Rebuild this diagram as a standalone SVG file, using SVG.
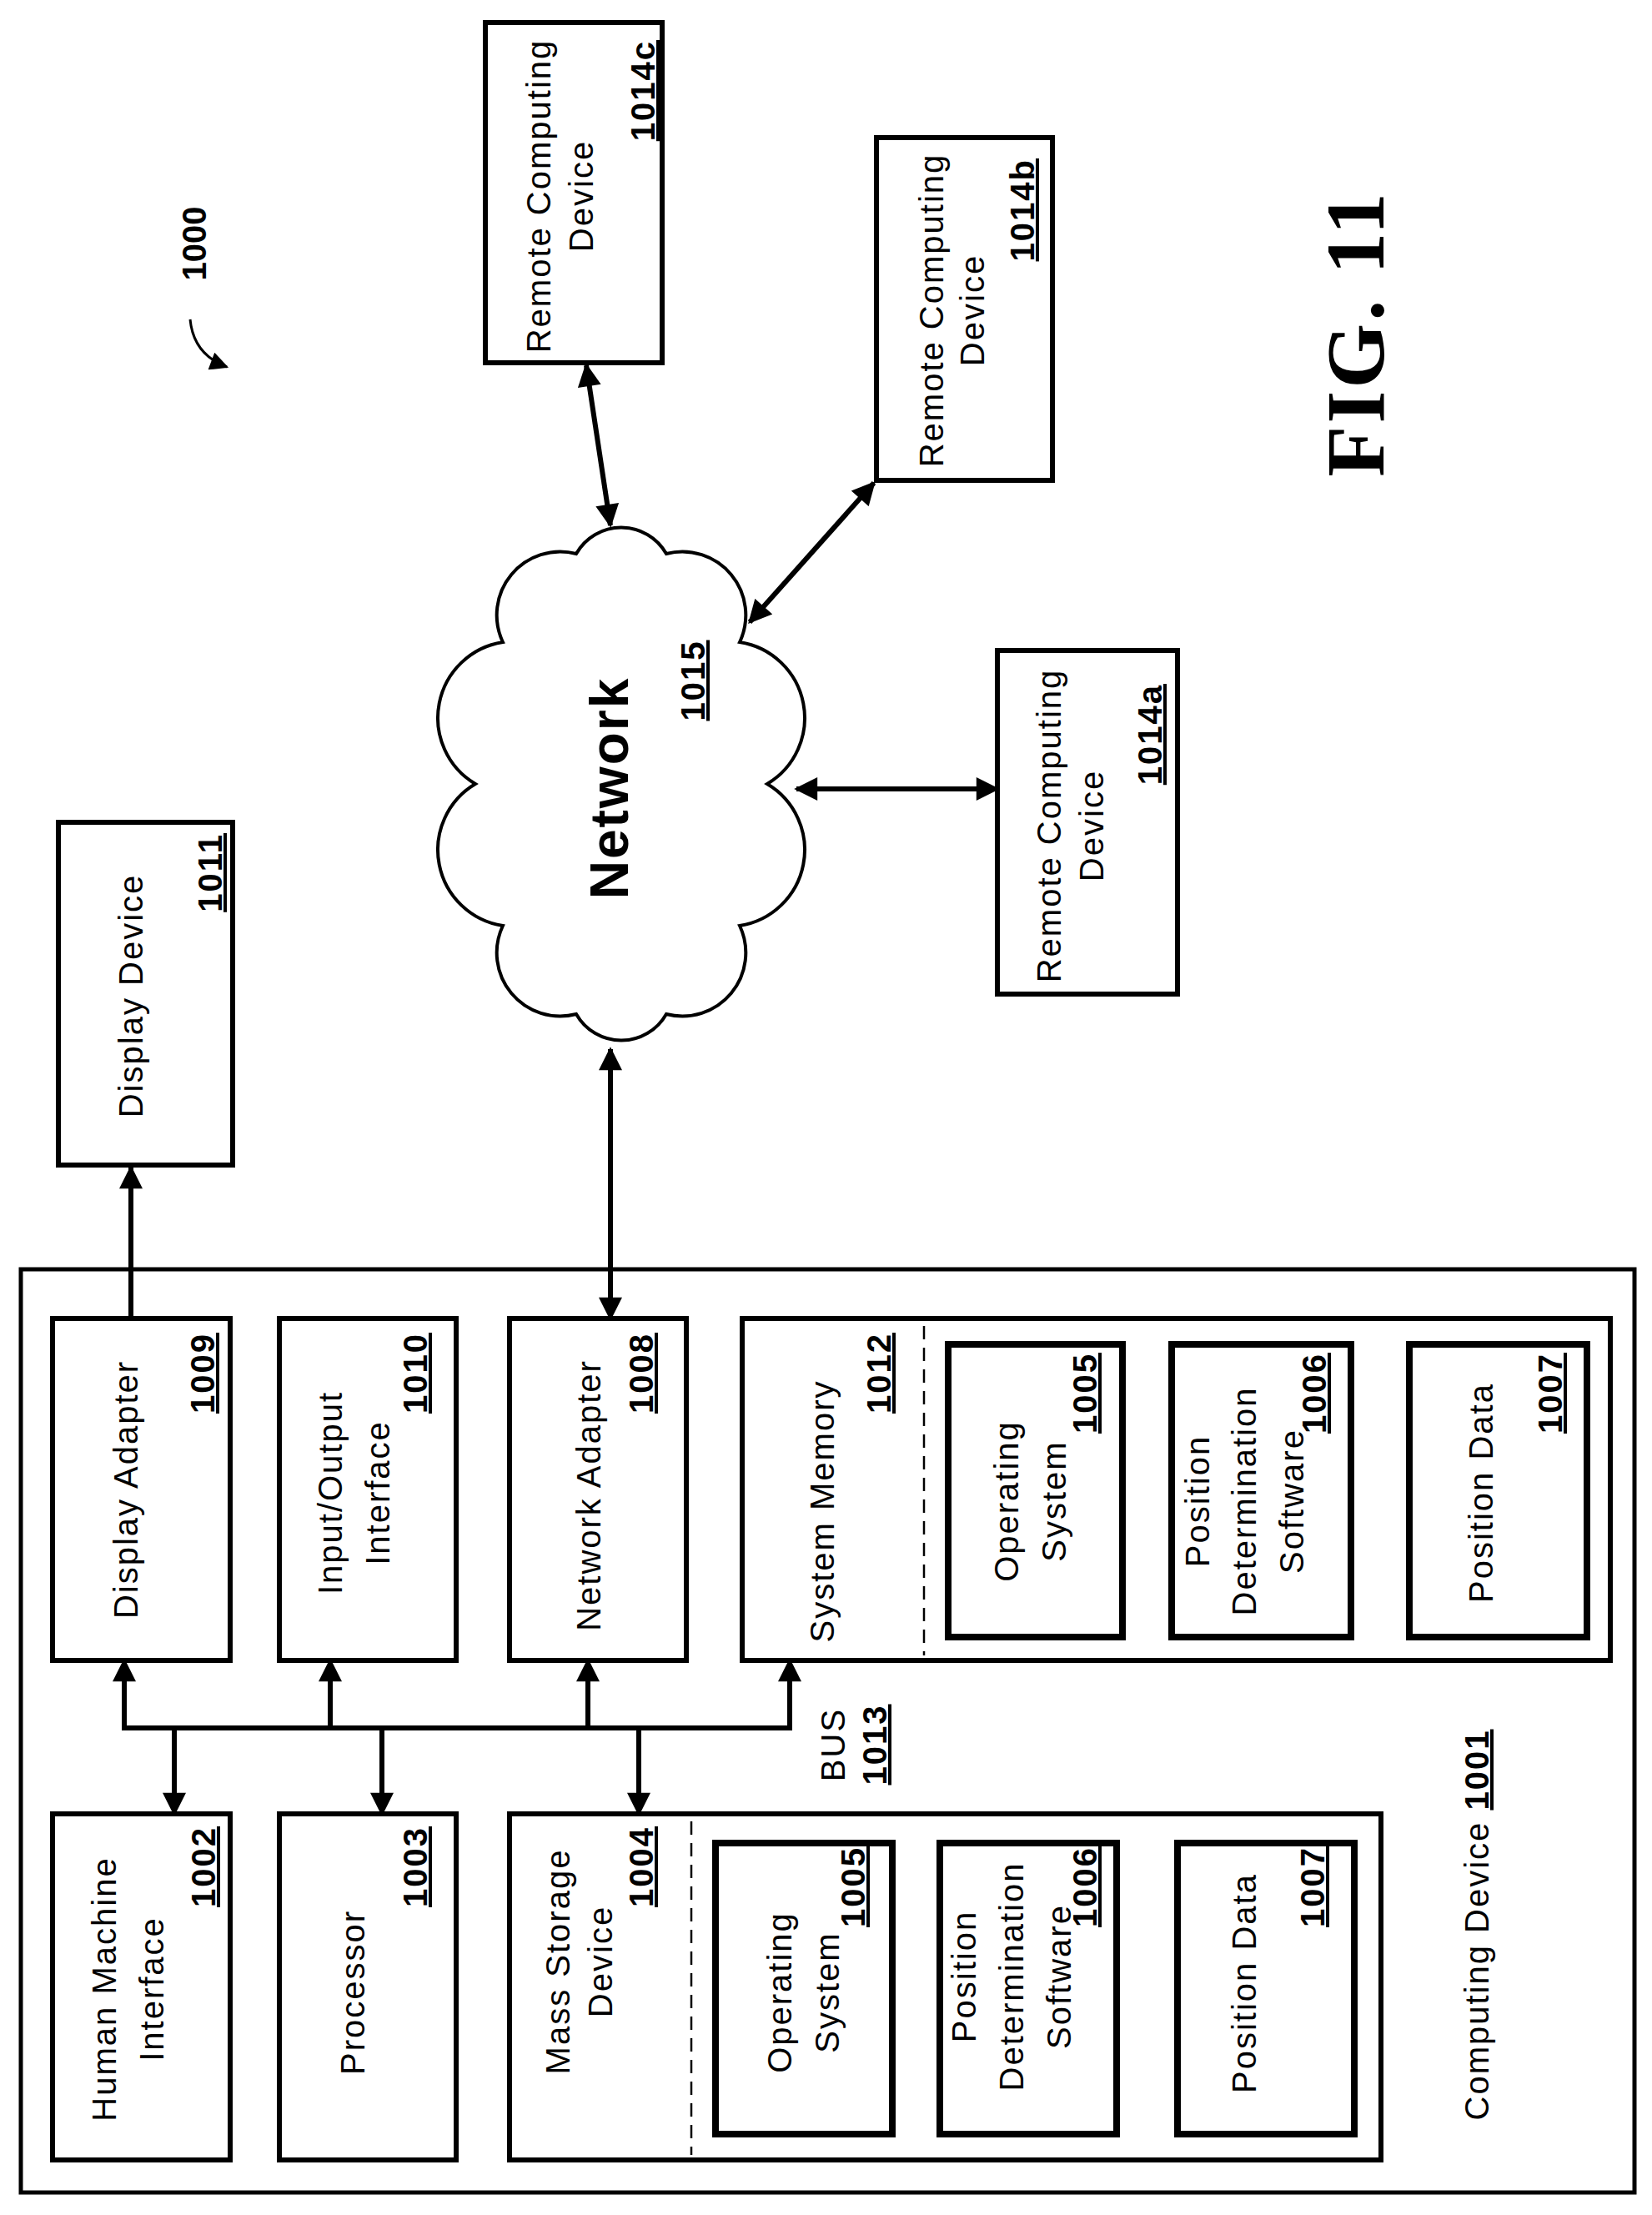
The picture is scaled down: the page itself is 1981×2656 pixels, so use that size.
<svg xmlns="http://www.w3.org/2000/svg" width="1981" height="2656" viewBox="0 0 1981 2656">
<style>
.box{fill:#fff;stroke:#000;stroke-width:6}
.ibox{fill:#fff;stroke:#000;stroke-width:8}
.outer{fill:#fff;stroke:#000;stroke-width:5}
.dash{stroke:#000;stroke-width:2.5;stroke-dasharray:16 10;fill:none}
.t{font-family:"Liberation Sans",Arial,sans-serif;font-size:40px;letter-spacing:2px;text-anchor:middle;fill:#000}
.n{font-family:"Liberation Sans",Arial,sans-serif;font-size:40px;font-weight:bold;letter-spacing:2px;text-anchor:end;text-decoration:underline;fill:#000}
.c{stroke:#000;stroke-width:6;fill:none}
</style>
<defs>
<marker id="ah" viewBox="0 0 10 10" refX="9" refY="5" markerWidth="30" markerHeight="28" markerUnits="userSpaceOnUse" orient="auto-start-reverse">
<path d="M0,0 L10,5 L0,10 Z" fill="#000"/>
</marker>
<marker id="ahs" viewBox="0 0 10 10" refX="9" refY="5" markerWidth="24" markerHeight="22" markerUnits="userSpaceOnUse" orient="auto">
<path d="M0,0 L10,5 L0,10 Z" fill="#000"/>
</marker>
</defs>
<rect width="1981" height="2656" fill="#fff"/>

<g id="computing-device">
<rect class="outer" x="25" y="1522" width="1935" height="1107"/>
<text class="t" transform="translate(1785,2308) rotate(-90)">Computing Device <tspan font-weight="bold" text-decoration="underline">1001</tspan></text>
</g>

<g id="display-adapter">
<rect class="box" x="63" y="1581" width="213" height="410"/>
<text class="t" transform="translate(165,1786) rotate(-90)">Display Adapter</text>
<text class="n" transform="translate(257,1598) rotate(-90)">1009</text>
</g>
<g id="io-interface">
<rect class="box" x="335" y="1581" width="212" height="410"/>
<text class="t" transform="translate(410,1790) rotate(-90)">Input/Output</text>
<text class="t" transform="translate(467,1790) rotate(-90)">Interface</text>
<text class="n" transform="translate(512,1598) rotate(-90)">1010</text>
</g>
<g id="network-adapter">
<rect class="box" x="611" y="1581" width="212" height="410"/>
<text class="t" transform="translate(720,1793) rotate(-90)">Network Adapter</text>
<text class="n" transform="translate(783,1598) rotate(-90)">1008</text>
</g>
<g id="system-memory">
<rect class="box" x="890" y="1581" width="1041" height="410"/>
<line class="dash" x1="1108" y1="1590" x2="1108" y2="1985"/>
<text class="t" transform="translate(1000,1812) rotate(-90)">System Memory</text>
<text class="n" transform="translate(1068,1598) rotate(-90)">1012</text>
</g>
<g id="sm-os">
<rect class="ibox" x="1137" y="1612" width="209" height="351"/>
<text class="t" transform="translate(1221,1800) rotate(-90)">Operating</text>
<text class="t" transform="translate(1278,1800) rotate(-90)">System</text>
<text class="n" transform="translate(1315,1622) rotate(-90)">1005</text>
</g>
<g id="sm-pds">
<rect class="ibox" x="1405" y="1612" width="215" height="351"/>
<text class="t" transform="translate(1450,1800) rotate(-90)">Position</text>
<text class="t" transform="translate(1506,1800) rotate(-90)">Determination</text>
<text class="t" transform="translate(1563,1800) rotate(-90)">Software</text>
<text class="n" transform="translate(1590,1622) rotate(-90)">1006</text>
</g>
<g id="sm-pd">
<rect class="ibox" x="1690" y="1612" width="213" height="351"/>
<text class="t" transform="translate(1790,1790) rotate(-90)">Position Data</text>
<text class="n" transform="translate(1873,1622) rotate(-90)">1007</text>
</g>

<g id="hmi">
<rect class="box" x="63" y="2175" width="213" height="415"/>
<text class="t" transform="translate(139,2385) rotate(-90)">Human Machine</text>
<text class="t" transform="translate(196,2385) rotate(-90)">Interface</text>
<text class="n" transform="translate(258,2190) rotate(-90)">1002</text>
</g>
<g id="processor">
<rect class="box" x="335" y="2175" width="212" height="415"/>
<text class="t" transform="translate(437,2389) rotate(-90)">Processor</text>
<text class="n" transform="translate(512,2190) rotate(-90)">1003</text>
</g>
<g id="mass-storage">
<rect class="box" x="611" y="2175" width="1045" height="415"/>
<line class="dash" x1="829" y1="2184" x2="829" y2="2584"/>
<text class="t" transform="translate(683,2352) rotate(-90)">Mass Storage</text>
<text class="t" transform="translate(734,2352) rotate(-90)">Device</text>
<text class="n" transform="translate(783,2190) rotate(-90)">1004</text>
</g>
<g id="ms-os">
<rect class="ibox" x="858" y="2210" width="212" height="349"/>
<text class="t" transform="translate(949,2389) rotate(-90)">Operating</text>
<text class="t" transform="translate(1006,2389) rotate(-90)">System</text>
<text class="n" transform="translate(1037,2214) rotate(-90)">1005</text>
</g>
<g id="ms-pds">
<rect class="ibox" x="1127" y="2210" width="212" height="349"/>
<text class="t" transform="translate(1170,2370) rotate(-90)">Position</text>
<text class="t" transform="translate(1227,2370) rotate(-90)">Determination</text>
<text class="t" transform="translate(1284,2370) rotate(-90)">Software</text>
<text class="n" transform="translate(1315,2214) rotate(-90)">1006</text>
</g>
<g id="ms-pd">
<rect class="ibox" x="1412" y="2210" width="212" height="349"/>
<text class="t" transform="translate(1506,2378) rotate(-90)">Position Data</text>
<text class="n" transform="translate(1588,2214) rotate(-90)">1007</text>
</g>

<g id="bus-label">
<text class="t" transform="translate(1013,2092) rotate(-90)">BUS</text>
<text class="t" font-weight="bold" text-decoration="underline" transform="translate(1063,2092) rotate(-90)">1013</text>
</g>

<g id="display-device">
<rect class="box" x="70" y="986" width="209" height="411"/>
<text class="t" transform="translate(171,1194) rotate(-90)">Display Device</text>
<text class="n" transform="translate(266,999) rotate(-90)">1011</text>
</g>

<g id="network">
<path fill="#fff" stroke="#000" stroke-width="4" d="M920,940 A92,92 0 0 1 887,1110 A76,76 0 0 1 799,1216 A62,62 0 0 1 691,1216 A76,76 0 0 1 603,1110 A92,92 0 0 1 570,940 A92,92 0 0 1 603,770 A76,76 0 0 1 691,664 A62,62 0 0 1 799,664 A76,76 0 0 1 887,770 A92,92 0 0 1 920,940 Z"/>
<text font-family="Liberation Sans,Arial,sans-serif" font-size="64" font-weight="bold" letter-spacing="2" text-anchor="middle" transform="translate(753,945) rotate(-90)">Network</text>
<text class="t" font-weight="bold" text-decoration="underline" transform="translate(845,816) rotate(-90)">1015</text>
</g>

<g id="remote-a">
<rect class="box" x="1196" y="780" width="216" height="412"/>
<text class="t" transform="translate(1272,990) rotate(-90)">Remote Computing</text>
<text class="t" transform="translate(1323,990) rotate(-90)">Device</text>
<text class="n" transform="translate(1393,820) rotate(-90)">1014a</text>
</g>
<g id="remote-b">
<rect class="box" x="1051" y="165" width="211" height="411"/>
<text class="t" transform="translate(1131,372) rotate(-90)">Remote Computing</text>
<text class="t" transform="translate(1180,372) rotate(-90)">Device</text>
<text class="n" transform="translate(1240,190) rotate(-90)">1014b</text>
</g>
<g id="remote-c">
<rect class="box" x="582" y="27" width="212" height="408"/>
<text class="t" transform="translate(660,235) rotate(-90)">Remote Computing</text>
<text class="t" transform="translate(711,235) rotate(-90)">Device</text>
<text class="n" transform="translate(785,48) rotate(-90)">1014c</text>
</g>

<g id="title">
<text font-family="Liberation Sans,Arial,sans-serif" font-size="40" font-weight="bold" text-anchor="middle" transform="translate(247,292) rotate(-90)">1000</text>
<path d="M228,383 Q232,425 272,440" stroke="#000" stroke-width="3" fill="none" marker-end="url(#ahs)"/>
<text font-family="Liberation Serif,'Times New Roman',serif" font-size="100" font-weight="bold" letter-spacing="3" text-anchor="middle" transform="translate(1659,400) rotate(-90)">FIG. 11</text>
</g>

<g id="connectors">
<line class="c" x1="157" y1="1581" x2="157" y2="1400" marker-end="url(#ah)"/>
<line class="c" x1="732" y1="1581" x2="732" y2="1258" marker-start="url(#ah)" marker-end="url(#ah)"/>
<line class="c" x1="955" y1="946" x2="1196" y2="946" marker-start="url(#ah)" marker-end="url(#ah)"/>
<line class="c" x1="899" y1="746" x2="1048" y2="579" marker-start="url(#ah)" marker-end="url(#ah)"/>
<line class="c" x1="732" y1="630" x2="703" y2="438" marker-start="url(#ah)" marker-end="url(#ah)"/>
<line class="c" x1="146" y1="2072" x2="950" y2="2072"/>
<line class="c" x1="149" y1="2072" x2="149" y2="1991" marker-end="url(#ah)"/>
<line class="c" x1="396" y1="2072" x2="396" y2="1991" marker-end="url(#ah)"/>
<line class="c" x1="705" y1="2072" x2="705" y2="1991" marker-end="url(#ah)"/>
<line class="c" x1="947" y1="2072" x2="947" y2="1991" marker-end="url(#ah)"/>
<line class="c" x1="209" y1="2072" x2="209" y2="2175" marker-end="url(#ah)"/>
<line class="c" x1="458" y1="2072" x2="458" y2="2175" marker-end="url(#ah)"/>
<line class="c" x1="766" y1="2072" x2="766" y2="2175" marker-end="url(#ah)"/>
</g>
</svg>
